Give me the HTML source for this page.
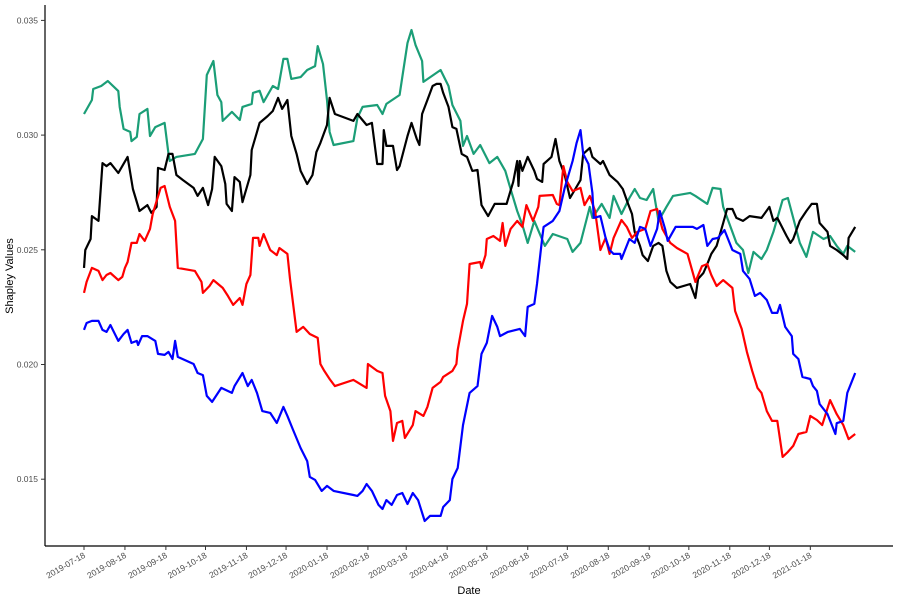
<!DOCTYPE html>
<html><head><meta charset="utf-8"><title>Shapley Values</title>
<style>
html,body{margin:0;padding:0;background:#fff;}
svg{display:block;font-family:"Liberation Sans",sans-serif;}
</style></head>
<body>
<svg id="chart" width="900" height="600" viewBox="0 0 900 600" xmlns="http://www.w3.org/2000/svg">
<rect width="900" height="600" fill="#fff"/>
<g id="series"></g>
<g id="yaxis"></g>
<g id="xaxis"></g>
<text x="469" y="594" font-size="11" text-anchor="middle" fill="#000">Date</text>
<text x="13" y="276" font-size="11" text-anchor="middle" fill="#000" transform="rotate(-90 13 276)">Shapley Values</text>
</svg>
<script>
const yTicks = [0.015, 0.020, 0.025, 0.030, 0.035];
const yTickLabels = ["0.015", "0.020", "0.025", "0.030", "0.035"];
const xTickLabels = ["2019-07-18","2019-08-18","2019-09-18","2019-10-18","2019-11-18","2019-12-18","2020-01-18","2020-02-18","2020-03-18","2020-04-18","2020-05-18","2020-06-18","2020-07-18","2020-08-18","2020-09-18","2020-10-18","2020-11-18","2020-12-18","2021-01-18"];
const startDate = "2019-07-18";

const greenDays = [0,6,7,13,18,26,27,30,35,36,40,42,48,50,54,61,64,65,70,84,90,93,98,101,104,105,112,118,120,127,128,133,136,143,147,151,154,157,164,169,175,177,181,184,186,189,204,207,211,222,226,229,239,241,245,248,251,256,257,270,276,279,285,287,290,295,300,307,313,319,323,328,332,336,341,349,355,366,370,376,383,385,392,398,401,407,413,417,421,426,431,435,441,446,459,463,472,476,482,484,494,499,503,507,513,517,522,529,533,537,542,547,552,560,565,570,575,578,584];
const greenVals = [.03092,.03153,.03201,.03214,.03236,.03192,.03123,.03027,.03014,.02974,.02992,.03092,.03114,.02996,.03035,.03053,.02918,.02887,.02905,.02918,.02983,.03262,.03323,.03175,.03144,.03062,.03101,.03066,.03123,.03136,.03184,.03193,.03144,.03214,.03201,.03332,.03332,.03245,.03253,.03284,.03301,.03388,.03310,.03153,.03014,.02957,.02974,.03075,.03123,.03131,.03092,.03136,.03175,.03253,.03402,.03458,.03393,.03323,.03232,.03284,.03214,.03131,.03062,.02953,.02996,.02918,.02957,.02878,.02905,.02844,.02765,.02669,.02608,.02530,.02626,.02517,.02569,.02547,.02491,.02530,.02687,.02639,.02700,.02639,.02735,.02656,.02726,.02765,.02726,.02717,.02765,.02626,.02687,.02735,.02748,.02735,.02700,.02770,.02765,.02687,.02530,.02499,.02399,.02491,.02460,.02499,.02578,.02717,.02726,.02639,.02530,.02469,.02578,.02547,.02560,.02517,.02482,.02517,.02491];

const blackDays = [0,1,5,6,11,14,17,20,26,29,33,37,42,48,51,55,56,61,64,67,70,75,83,86,90,94,97,99,104,107,108,112,114,118,120,126,127,131,133,139,143,147,150,154,157,161,164,169,173,176,179,184,186,190,204,207,214,218,222,226,227,229,234,237,239,245,248,252,254,256,260,264,267,270,272,276,279,282,286,290,294,298,301,306,311,320,325,328,329,330,332,336,341,343,347,348,354,357,360,364,368,372,376,378,383,385,391,393,398,404,408,412,415,417,421,423,427,431,435,438,441,444,449,459,463,465,469,472,475,479,484,487,491,494,499,504,513,519,522,525,532,535,537,542,547,551,555,557,563,565,570,575,578,579,584];
const blackVals = [.02421,.02499,.02547,.02647,.02626,.02878,.02865,.02878,.02835,.02865,.02905,.02765,.02669,.02695,.02661,.02687,.02857,.02848,.02918,.02918,.02826,.02804,.02770,.02735,.02770,.02695,.02765,.02905,.02865,.02787,.02700,.02669,.02817,.02796,.02708,.02826,.02935,.03014,.03053,.03083,.03105,.03162,.03114,.03153,.02996,.02918,.02844,.02787,.02826,.02926,.02966,.03044,.03162,.03092,.03062,.03092,.03044,.03053,.02874,.02874,.03022,.02953,.02953,.02848,.02865,.02996,.03053,.02983,.02957,.03092,.03153,.03214,.03223,.03223,.03184,.03123,.03035,.03027,.02918,.02905,.02844,.02848,.02695,.02647,.02700,.02700,.02796,.02887,.02778,.02887,.02844,.02905,.02844,.02809,.02796,.02874,.02905,.02983,.02887,.02826,.02726,.02765,.02804,.02918,.02944,.02905,.02874,.02887,.02826,.02796,.02765,.02700,.02656,.02578,.02517,.02477,.02451,.02517,.02530,.02517,.02408,.02360,.02334,.02351,.02290,.02373,.02399,.02438,.02482,.02517,.02617,.02678,.02678,.02639,.02626,.02647,.02639,.02687,.02626,.02639,.02560,.02530,.02547,.02626,.02669,.02700,.02700,.02617,.02578,.02517,.02499,.02477,.02460,.02552,.02600];

const redDays = [0,2,6,11,14,17,20,26,29,31,33,36,40,42,46,50,52,58,61,65,69,71,84,89,90,95,98,105,109,113,118,120,123,126,128,132,133,136,141,146,148,154,156,161,166,171,177,179,182,186,190,204,214,215,222,226,228,232,234,237,241,243,249,251,257,260,264,270,272,279,282,283,287,290,292,300,301,304,305,310,315,317,319,323,328,332,335,340,344,345,355,358,360,363,366,370,376,379,383,387,391,395,398,401,407,411,415,419,425,429,434,438,444,449,457,463,468,472,475,479,484,491,493,498,502,506,510,513,517,521,525,529,533,537,541,547,550,555,559,565,570,575,579,584];
const redVals = [.02312,.02360,.02421,.02408,.02368,.02390,.02399,.02368,.02382,.02421,.02447,.02530,.02530,.02569,.02539,.02591,.02656,.02770,.02778,.02687,.02626,.02421,.02408,.02360,.02312,.02342,.02368,.02334,.02299,.02260,.02290,.02260,.02351,.02390,.02552,.02552,.02517,.02569,.02499,.02477,.02508,.02482,.02373,.02142,.02164,.02133,.02116,.02002,.01972,.01937,.01906,.01933,.01898,.02002,.01972,.01963,.01863,.01797,.01667,.01745,.01754,.01680,.01736,.01797,.01776,.01815,.01898,.01924,.01946,.01972,.02002,.02063,.02190,.02264,.02438,.02447,.02421,.02477,.02547,.02560,.02539,.02617,.02517,.02591,.02626,.02600,.02695,.02626,.02687,.02735,.02739,.02700,.02695,.02865,.02796,.02756,.02770,.02695,.02735,.02669,.02499,.02552,.02482,.02552,.02630,.02600,.02552,.02578,.02591,.02669,.02678,.02591,.02530,.02508,.02482,.02360,.02429,.02438,.02390,.02342,.02368,.02334,.02233,.02155,.02055,.01972,.01898,.01876,.01797,.01754,.01754,.01597,.01619,.01645,.01697,.01706,.01776,.01758,.01736,.01845,.01784,.01736,.01675,.01697];

const blueDays = [0,2,6,11,14,17,20,26,30,33,36,40,41,44,48,54,56,61,64,67,69,71,83,86,90,93,97,104,112,114,120,124,127,131,135,141,146,151,154,158,164,169,171,175,180,184,189,204,207,211,214,218,223,226,229,233,237,241,245,249,253,258,262,270,272,277,279,283,287,292,298,301,305,309,313,315,321,330,334,336,341,343,347,348,355,360,364,370,373,376,378,382,385,386,391,395,398,401,406,407,413,417,421,425,429,434,436,440,442,448,461,464,469,472,476,480,485,491,497,499,504,508,512,517,521,525,527,531,536,537,541,544,550,552,555,557,563,569,570,575,578,584];
const blueVals = [.02151,.02181,.02190,.02190,.02151,.02142,.02172,.02103,.02133,.02151,.02094,.02103,.02085,.02124,.02124,.02103,.02046,.02042,.02055,.02024,.02103,.02033,.02002,.01963,.01954,.01863,.01837,.01898,.01876,.01906,.01963,.01906,.01933,.01876,.01797,.01789,.01745,.01815,.01776,.01719,.01636,.01579,.01510,.01497,.01449,.01471,.01449,.01431,.01427,.01449,.01479,.01449,.01388,.01370,.01409,.01388,.01431,.01440,.01392,.01440,.01409,.01318,.01340,.01340,.01379,.01409,.01501,.01549,.01736,.01876,.01906,.02046,.02094,.02212,.02164,.02124,.02142,.02155,.02124,.02251,.02264,.02351,.02552,.02600,.02626,.02669,.02770,.02887,.02966,.03022,.02918,.02874,.02748,.02639,.02647,.02552,.02499,.02482,.02482,.02460,.02547,.02530,.02600,.02591,.02517,.02591,.02669,.02591,.02539,.02600,.02600,.02591,.02608,.02517,.02547,.02552,.02586,.02499,.02482,.02408,.02373,.02299,.02312,.02281,.02225,.02225,.02260,.02164,.02124,.02046,.02024,.01946,.01937,.01906,.01885,.01828,.01784,.01697,.01744,.01754,.01876,.01963];

const NS = "http://www.w3.org/2000/svg";
const X0 = 84, PX_PER_DAY = 1.3206;
const Y_TOP_VAL = 0.035, Y_TOP_PX = 20.4, PX_PER_UNIT = 22940;
function xScale(d){ return X0 + d * PX_PER_DAY; }
function yScale(v){ return Y_TOP_PX + (Y_TOP_VAL - v) * PX_PER_UNIT; }
function dayOffset(s){ return Math.round((Date.parse(s) - Date.parse(startDate)) / 86400000); }

const series = document.getElementById('series');
function drawSeries(days, vals, color, name){
  const pts = days.map((d,i)=> xScale(d).toFixed(1)+','+yScale(vals[i]).toFixed(1)).join(' ');
  const pl = document.createElementNS(NS,'polyline');
  pl.setAttribute('points', pts);
  pl.setAttribute('fill','none');
  pl.setAttribute('stroke', color);
  pl.setAttribute('stroke-width','2.2');
  pl.setAttribute('stroke-linejoin','round');
  
  
  series.appendChild(pl);
}
drawSeries(greenDays, greenVals, '#1b9e77', 'series-green-line');
drawSeries(blackDays, blackVals, '#000000', 'series-black-line');
drawSeries(redDays, redVals, '#ff0000', 'series-red-line');
drawSeries(blueDays, blueVals, '#0000ff', 'series-blue-line');

// axes
const yaxis = document.getElementById('yaxis');
const yl = document.createElementNS(NS,'line');
yl.setAttribute('x1',45); yl.setAttribute('x2',45); yl.setAttribute('y1',5); yl.setAttribute('y2',546);
yl.setAttribute('stroke','#000'); yl.setAttribute('stroke-width','1.2');


yaxis.appendChild(yl);
yTicks.forEach((v,i)=>{
  const y = yScale(v);
  const t = document.createElementNS(NS,'line');
  t.setAttribute('x1',41); t.setAttribute('x2',45); t.setAttribute('y1',y); t.setAttribute('y2',y);
  t.setAttribute('stroke','#333'); t.setAttribute('stroke-width','1');
  
  
  yaxis.appendChild(t);
  const tx = document.createElementNS(NS,'text');
  tx.setAttribute('x',38); tx.setAttribute('y',y+3);
  tx.setAttribute('font-size','8.5'); tx.setAttribute('text-anchor','end'); tx.setAttribute('fill','#4d4d4d');
  tx.textContent = yTickLabels[i];
  
  
  yaxis.appendChild(tx);
});
const xaxis = document.getElementById('xaxis');
const xl = document.createElementNS(NS,'line');
xl.setAttribute('x1',45); xl.setAttribute('x2',893); xl.setAttribute('y1',546); xl.setAttribute('y2',546);
xl.setAttribute('stroke','#000'); xl.setAttribute('stroke-width','1.2');


xaxis.appendChild(xl);
xTickLabels.forEach(lbl=>{
  const x = xScale(dayOffset(lbl));
  const t = document.createElementNS(NS,'line');
  t.setAttribute('x1',x); t.setAttribute('x2',x); t.setAttribute('y1',546); t.setAttribute('y2',550);
  t.setAttribute('stroke','#333'); t.setAttribute('stroke-width','1');
  
  
  xaxis.appendChild(t);
  const tx = document.createElementNS(NS,'text');
  tx.setAttribute('x',x+2); tx.setAttribute('y',557);
  tx.setAttribute('font-size','8.5'); tx.setAttribute('text-anchor','end'); tx.setAttribute('fill','#4d4d4d');
  tx.setAttribute('transform','rotate(-30 '+(x+2)+' 557)');
  tx.textContent = lbl;
  
  
  xaxis.appendChild(tx);
});
</script>
</body></html>
